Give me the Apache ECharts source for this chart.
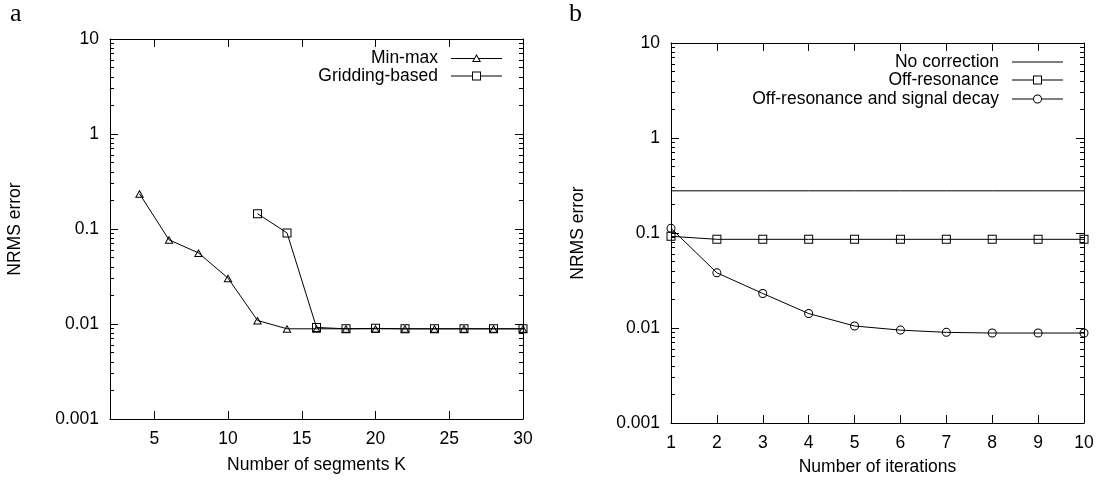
<!DOCTYPE html>
<html>
<head>
<meta charset="utf-8">
<script src="https://cdn.jsdelivr.net/npm/echarts@6/dist/echarts.min.js"></script>
<style>
html, body { margin: 0; padding: 0; background: #fff; }
#main { width: 1102px; height: 481px; }
</style>
</head>
<body>
<div id="main"></div>
<script>
// panel a: error vs number of segments
var segK = [4, 6, 8, 10, 12, 14, 16, 18, 20, 22, 24, 26, 28, 30];
var minMax = [0.235, 0.077, 0.056, 0.0304, 0.0109, 0.0089, 0.0089, 0.0089, 0.0089, 0.0089, 0.0089, 0.0089, 0.0089, 0.0089];
var gridding = [null, null, null, null, 0.145, 0.091, 0.0092, 0.0089, 0.009, 0.0089, 0.0089, 0.0089, 0.0089, 0.0089];
var segTicks = [5, 10, 15, 20, 25, 30];

// panel b: error vs number of iterations
var iters = [1, 2, 3, 4, 5, 6, 7, 8, 9, 10];
var noCorr = [0.278, 0.278, 0.278, 0.278, 0.278, 0.278, 0.278, 0.278, 0.278, 0.278];
var offRes = [0.0923, 0.0858, 0.0858, 0.0858, 0.0858, 0.0858, 0.0858, 0.0858, 0.0858, 0.0858];
var offResDecay = [0.112, 0.0381, 0.0231, 0.0142, 0.0105, 0.0095, 0.009, 0.00885, 0.00885, 0.00885];

var yTicks = [0.001, 0.01, 0.1, 1, 10];
var yTickText = ['0.001', '0.01', '0.1', '1', '10'];

// log minor ticks 2..9 in each decade
var yMinor = [];
[0.001, 0.01, 0.1, 1].forEach(function (d) {
	for (var k = 2; k <= 9; k++) yMinor.push(+(k * d).toPrecision(3));
});

var FONT = 'Liberation Sans';
var FS = 17.5;
var INK = '#000';

// hollow 1px markers (built-in empty symbols are stroked 2px)
var SYM = {
	tri: 'path://M4.5,0L9,8L0,8Z M4.5,2.04L1.71,7L7.29,7Z',
	sq: 'path://M0,0L9,0L9,9L0,9Z M1,1L1,8L8,8L8,1Z',
	circ: 'path://M0,4.5A4.5,4.5,0,1,1,9,4.5A4.5,4.5,0,1,1,0,4.5Z M1,4.5A3.5,3.5,0,1,0,8,4.5A3.5,3.5,0,1,0,1,4.5Z'
};
// legend keys: 51x11 box, line through the middle, marker in the centre
var KEY = {
	line: 'path://M0,5L51,5L51,6L0,6Z',
	tri: 'path://M0,5L23.4,5L23.4,6L0,6Z M27.6,5L51,5L51,6L27.6,6Z M25.5,1L30,9L21,9Z M25.5,3.04L22.71,8L28.29,8Z',
	sq: 'path://M0,5L21,5L21,6L0,6Z M30,5L51,5L51,6L30,6Z M21,1L30,1L30,10L21,10Z M22,2L22,9L29,9L29,2Z',
	circ: 'path://M0,5L21,5L21,6L0,6Z M30,5L51,5L51,6L30,6Z M21,5.5A4.5,4.5,0,1,1,30,5.5A4.5,4.5,0,1,1,21,5.5Z M22,5.5A3.5,3.5,0,1,0,29,5.5A3.5,3.5,0,1,0,22,5.5Z'
};

function pairs(xs, ys) {
	var out = [];
	for (var i = 0; i < xs.length; i++) {
		if (ys[i] != null) out.push([xs[i], ys[i]]);
	}
	return out;
}

function xAxisPair(grid, min, max, ticks, name, nameGap) {
	var tickCfg = { inside: true, length: 8, lineStyle: { color: INK } };
	if (ticks) tickCfg.customValues = ticks;
	var bottom = {
		type: 'value', gridIndex: grid, min: min, max: max, position: 'bottom',
		name: name, nameLocation: 'middle', nameGap: nameGap,
		nameTextStyle: { fontFamily: FONT, fontSize: FS, color: INK },
		axisLine: { show: true, lineStyle: { color: INK, width: 1 } },
		axisTick: tickCfg,
		axisLabel: { fontFamily: FONT, fontSize: FS, color: INK, margin: 11, showMinLabel: true, showMaxLabel: true },
		splitLine: { show: false }
	};
	if (ticks) bottom.axisLabel.customValues = ticks; else bottom.interval = 1;
	var top = {
		type: 'value', gridIndex: grid, min: min, max: max, position: 'top',
		axisLine: { show: true, lineStyle: { color: INK, width: 1 } },
		axisTick: tickCfg,
		axisLabel: { show: false },
		splitLine: { show: false }
	};
	if (!ticks) top.interval = 1;
	return [bottom, top];
}

function yAxisSet(grid, nameGap) {
	var base = { type: 'log', logBase: 10, gridIndex: grid, min: 0.001, max: 10, splitLine: { show: false } };
	var major = { inside: true, length: 8, customValues: yTicks, lineStyle: { color: INK } };
	var minor = { inside: true, length: 4, customValues: yMinor, lineStyle: { color: INK } };
	return [
		Object.assign({}, base, {
			position: 'left', name: 'NRMS error', nameLocation: 'middle', nameGap: nameGap,
			nameTextStyle: { fontFamily: FONT, fontSize: FS, color: INK },
			axisLine: { show: true, lineStyle: { color: INK, width: 1 } },
			axisTick: major,
			axisLabel: {
				fontFamily: FONT, fontSize: FS, color: INK, margin: 11, customValues: yTicks,
				formatter: function (v) { return yTickText[yTicks.indexOf(+(+v).toPrecision(3))] || ''; }
			}
		}),
		Object.assign({}, base, { position: 'left', axisLine: { show: false }, axisTick: minor, axisLabel: { show: false } }),
		Object.assign({}, base, { position: 'right', axisLine: { show: true, lineStyle: { color: INK, width: 1 } }, axisTick: major, axisLabel: { show: false } }),
		Object.assign({}, base, { position: 'right', axisLine: { show: false }, axisTick: minor, axisLabel: { show: false } })
	];
}

function lineSeries(name, xi, yi, data, sym) {
	var s = {
		name: name, type: 'line', xAxisIndex: xi, yAxisIndex: yi, data: data,
		symbol: sym ? SYM[sym] : 'none', showSymbol: !!sym,
		symbolSize: sym === 'tri' ? [9, 8] : 9,
		lineStyle: { color: INK, width: 1 },
		itemStyle: { color: INK },
		emphasis: { disabled: true },
		z: 3
	};
	return s;
}

function legendRow(name, key, right, top) {
	return {
		data: [{ name: name, icon: KEY[key] }], right: right, top: top, align: 'right', padding: 0,
		itemWidth: 51, itemHeight: 11, selectedMode: false,
		textStyle: { fontFamily: FONT, fontSize: FS, color: INK, padding: [0, 8, 0, 0] }
	};
}

var chart = echarts.init(document.getElementById('main'));
var xa = xAxisPair(0, 2, 30, segTicks, 'Number of segments K', 37);
var xb = xAxisPair(1, 1, 10, null, 'Number of iterations', 35);

chart.setOption({
	animation: false,
	backgroundColor: '#fff',
	title: [
		{ text: 'a', left: 5, top: -4, textStyle: { fontFamily: 'Liberation Serif', fontSize: 26, fontWeight: 'normal', color: INK } },
		{ text: 'b', left: 564, top: -4, textStyle: { fontFamily: 'Liberation Serif', fontSize: 26, fontWeight: 'normal', color: INK } }
	],
	grid: [
		{ left: 110, top: 39, width: 413, height: 380 },
		{ left: 671, top: 43, width: 413, height: 380 }
	],
	xAxis: xa.concat(xb),
	yAxis: yAxisSet(0, 86).concat(yAxisSet(1, 84)),
	legend: [
		legendRow('Min-max', 'tri', 600, 49),
		legendRow('Gridding-based', 'sq', 600, 67),
		legendRow('No correction', 'line', 39, 53),
		legendRow('Off-resonance', 'sq', 39, 71),
		legendRow('Off-resonance and signal decay', 'circ', 39, 90)
	],
	series: [
		lineSeries('Min-max', 0, 0, pairs(segK, minMax), 'tri'),
		lineSeries('Gridding-based', 0, 0, pairs(segK, gridding), 'sq'),
		lineSeries('No correction', 2, 4, pairs(iters, noCorr), null),
		lineSeries('Off-resonance', 2, 4, pairs(iters, offRes), 'sq'),
		lineSeries('Off-resonance and signal decay', 2, 4, pairs(iters, offResDecay), 'circ')
	]
});
</script>
</body>
</html>
